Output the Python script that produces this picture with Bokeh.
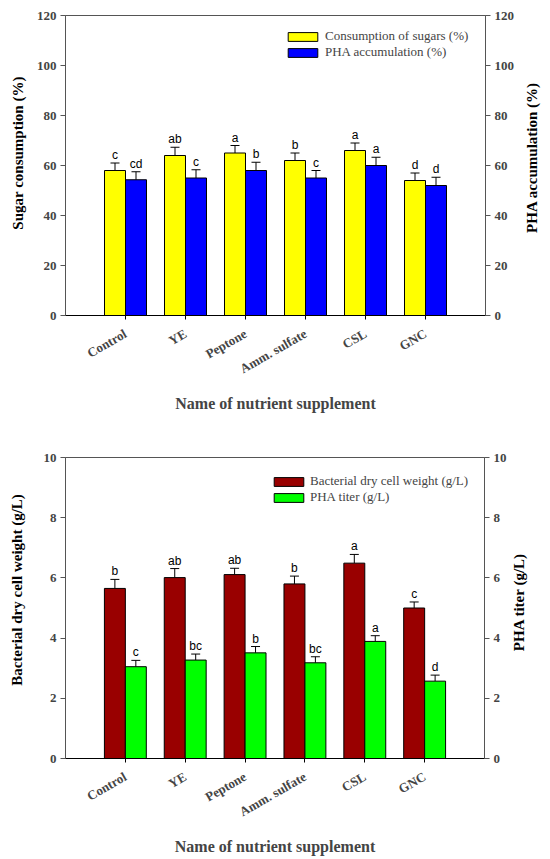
import math
from bokeh.plotting import figure
from bokeh.models import (ColumnDataSource, Whisker, TeeHead, Legend, LegendItem,
                          LinearAxis, FixedTicker, SingleIntervalTicker, Range1d)
from bokeh.layouts import column, row
from bokeh.transform import dodge
from bokeh.embed import file_html
from bokeh.resources import INLINE
from bokeh.core.properties import value

# ---------------- data ----------------
supplements = ["Control", "YE", "Peptone", "Amm. sulfate", "CSL", "GNC"]
positions = [1, 2, 3, 4, 5, 6]

sugar_consumption = [58.0, 64.0, 65.0, 62.0, 66.0, 54.0]
sugar_err = [3.0, 3.3, 3.0, 3.0, 3.0, 3.0]
sugar_letters = ["c", "ab", "a", "b", "a", "d"]

pha_accumulation = [54.3, 55.0, 58.0, 55.0, 60.0, 52.0]
pha_accumulation_err = [3.2, 3.3, 3.3, 3.0, 3.3, 3.3]
pha_accumulation_letters = ["cd", "c", "b", "c", "a", "d"]

dry_cell_weight = [5.65, 6.01, 6.11, 5.80, 6.49, 5.00]
dry_cell_weight_err = [0.30, 0.30, 0.21, 0.26, 0.29, 0.20]
dry_cell_weight_letters = ["b", "ab", "ab", "b", "a", "c"]

pha_titer = [3.05, 3.27, 3.51, 3.18, 3.89, 2.57]
pha_titer_err = [0.21, 0.20, 0.21, 0.20, 0.19, 0.20]
pha_titer_letters = ["c", "bc", "b", "bc", "a", "d"]

SERIF = "Liberation Serif"
SANS = "Liberation Sans"


def side_title(text, width, height, y_range, ymax, x, dy, top_border, bottom_border):
    """Narrow strip holding a y-axis title that reads bottom-to-top."""
    s = figure(width=width, height=height, output_backend="svg", toolbar_location=None,
               x_range=Range1d(0, width), y_range=y_range,
               x_axis_type=None, y_axis_type=None,
               min_border_left=0, min_border_right=0,
               min_border_top=top_border, min_border_bottom=bottom_border)
    s.outline_line_color = None
    s.background_fill_color = "white"
    s.text(x=[x], y=[ymax / 2], text=[text], angle=math.pi / 2,
           y_offset=-dy, text_align="center", text_baseline="middle",
           text_font=value(SERIF), text_font_style="bold", text_font_size="15px",
           text_color="black")
    return s


def make_panel(series, ymax, ystep, left_label, right_label,
               tick_border, left_side, left_x, left_dy,
               right_side, right_x, right_dy,
               legend_xy, legend_standoff, top_border, bottom_border, height):
    main_width = 550 - left_side - right_side
    p = figure(width=main_width, height=height, output_backend="svg", toolbar_location=None,
               x_range=Range1d(0, 7), y_range=Range1d(0, ymax),
               min_border_left=tick_border[0], min_border_right=tick_border[1],
               min_border_top=top_border, min_border_bottom=bottom_border)
    p.xgrid.visible = False
    p.ygrid.visible = False
    p.outline_line_color = "#555555"
    p.outline_line_width = 1
    p.background_fill_color = "white"

    items = []
    for (vals, errs, letters, color, label, off) in series:
        src = ColumnDataSource(dict(
            x=positions, top=vals,
            upper=[v + e for v, e in zip(vals, errs)],
            letters=letters))
        xd = dodge("x", off, range=p.x_range)
        r = p.vbar(x=xd, top="top", bottom=0, width=0.35, source=src,
                   fill_color=color, line_color="black", line_width=1)
        w = Whisker(base=xd, lower="top", upper="upper", source=src,
                    dimension="height", line_color="black", line_width=1,
                    upper_head=TeeHead(size=9, line_color="black", line_width=1),
                    lower_head=None)
        p.add_layout(w)
        p.text(x=xd, y="upper", text="letters", source=src,
               text_align="center", text_baseline="bottom", y_offset=-1,
               text_font=value(SANS), text_font_size="12px", text_color="black")
        items.append(LegendItem(label=label, renderers=[r]))

    legend = Legend(items=items, location=legend_xy, padding=0, margin=0,
                    spacing=0, glyph_width=37, glyph_height=11, label_height=16,
                    label_standoff=legend_standoff, border_line_alpha=0,
                    background_fill_alpha=0,
                    label_text_font=SERIF, label_text_font_size="13px")
    p.add_layout(legend)

    # x axis
    xa = p.xaxis[0]
    xa.ticker = FixedTicker(ticks=positions)
    xa.major_label_overrides = {pos: name for pos, name in zip(positions, supplements)}
    xa.major_label_orientation = math.pi / 6
    xa.major_label_text_font = SERIF
    xa.major_label_text_font_style = "bold"
    xa.major_label_text_font_size = "13px"
    xa.major_label_standoff = 13
    xa.major_tick_out = 4
    xa.major_tick_in = 0
    xa.minor_tick_line_color = None
    xa.axis_line_color = "black"
    xa.axis_label = "Name of nutrient supplement"
    xa.axis_label_text_font = SERIF
    xa.axis_label_text_font_style = "bold"
    xa.axis_label_text_font_size = "16px"
    xa.axis_label_standoff = 9

    # y axes
    ya = p.yaxis[0]
    ra = LinearAxis()
    p.add_layout(ra, "right")
    for ax in (ya, ra):
        ax.ticker = SingleIntervalTicker(interval=ystep, num_minor_ticks=0)
        ax.major_label_text_font = SERIF
        ax.major_label_text_font_style = "bold"
        ax.major_label_text_font_size = "13px"
        ax.major_label_standoff = 4
        ax.major_tick_out = 5
        ax.major_tick_in = 0
        ax.major_tick_line_color = "#555555"
        ax.minor_tick_line_color = None
        ax.axis_line_color = "#555555"

    left = side_title(left_label, left_side, height, p.y_range, ymax, left_x, left_dy,
                      top_border, bottom_border)
    right = side_title(right_label, right_side, height, p.y_range, ymax, right_x, right_dy,
                       top_border, bottom_border)
    return row(left, p, right, spacing=0)


r1 = make_panel(
    [(sugar_consumption, sugar_err, sugar_letters, "#FFFF00", "Consumption of sugars (%)", -0.175),
     (pha_accumulation, pha_accumulation_err, pha_accumulation_letters, "#0000FF", "PHA accumulation (%)", 0.175)],
    120, 20, "Sugar consumption (%)", "PHA accumulation (%)",
    (32, 32), 33, 17.0, 12.5, 33, 14.7, 8,
    (219, 255), 4, 15, 117, 432)

r2 = make_panel(
    [(dry_cell_weight, dry_cell_weight_err, dry_cell_weight_letters, "#990000", "Bacterial dry cell weight (g/L)", -0.175),
     (pha_titer, pha_titer_err, pha_titer_letters, "#00FF00", "PHA titer (g/L)", 0.175)],
    10, 2, "Bacterial dry cell weight (g/L)", "PHA titer (g/L)",
    (25, 24), 40, 16.7, 18, 41, 9.5, 6,
    (205, 253), 3, 25, 100, 426)

layout = column(r1, r2, spacing=0)
open("out.html", "w").write(file_html(layout, INLINE))
